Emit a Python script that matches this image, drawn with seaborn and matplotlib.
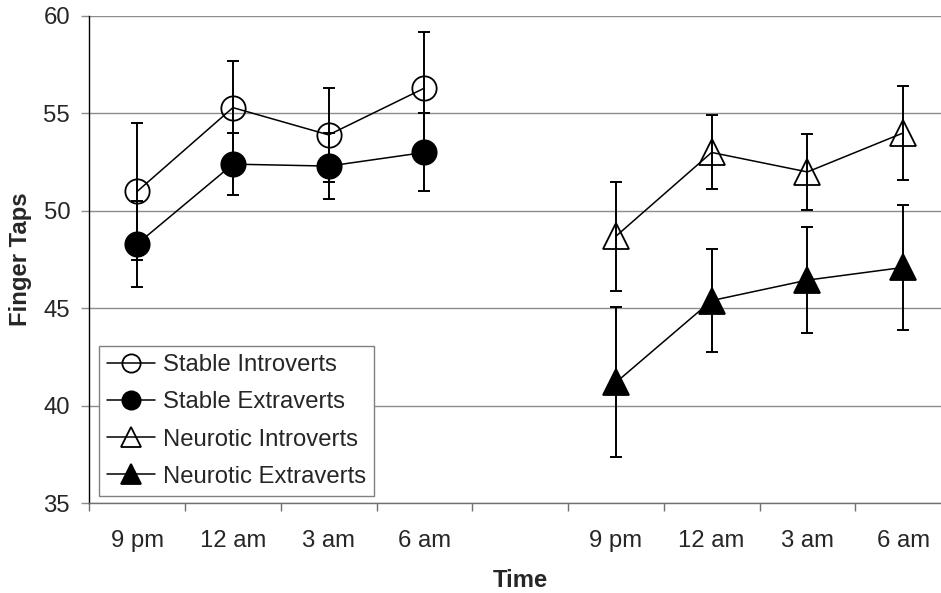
import numpy as np
import pandas as pd
import seaborn as sns
from matplotlib import pyplot as plt
from matplotlib.ticker import FixedLocator, NullFormatter

# categories along the x axis (gap between the two groups)
time_labels = ["9 pm", "12 am", "3 am", "6 am", "", "9 pm", "12 am", "3 am", "6 am"]
stable_x = [0, 1, 2, 3]
neurotic_x = [5, 6, 7, 8]

stable_introverts = [51.0, 55.3, 53.9, 56.3]
stable_introverts_err = [3.5, 2.4, 2.4, 2.9]
stable_extraverts = [48.3, 52.4, 52.3, 53.0]
stable_extraverts_err = [2.2, 1.6, 1.7, 2.0]
neurotic_introverts = [48.7, 53.0, 52.0, 54.0]
neurotic_introverts_err = [2.8, 1.9, 1.95, 2.4]
neurotic_extraverts = [41.2, 45.4, 46.45, 47.1]
neurotic_extraverts_err = [3.85, 2.65, 2.7, 3.2]

y_ticks = [35, 40, 45, 50, 55, 60]


def main() -> None:
    sns.set_theme(style="white")
    plt.rcParams["font.family"] = ["Liberation Sans", "DejaVu Sans"]
    fs = 17.2

    fig = plt.figure(figsize=(9.41, 5.93), dpi=100)
    ax = fig.add_axes([89.3 / 941, 89.7 / 593, 861.7 / 941, 487.3 / 593])

    series = [
        ("Stable Introverts", stable_x, stable_introverts, stable_introverts_err, "o", "none"),
        ("Stable Extraverts", stable_x, stable_extraverts, stable_extraverts_err, "o", "black"),
        ("Neurotic Introverts", neurotic_x, neurotic_introverts, neurotic_introverts_err, "^", "none"),
        ("Neurotic Extraverts", neurotic_x, neurotic_extraverts, neurotic_extraverts_err, "^", "black"),
    ]

    for name, xs, vals, errs, marker, face in series:
        ax.errorbar(xs, vals, yerr=errs, fmt="none", ecolor="black",
                    elinewidth=1.4, capsize=4.5, capthick=1.4, zorder=3)
        data = pd.DataFrame({"x": xs, "y": vals})
        sns.lineplot(data=data, x="x", y="y", ax=ax, color="black", linewidth=1.1,
                     marker=marker, markersize=17.5 if marker == "o" else 18.5,
                     mfc=face, mec="black", mew=1.3, label=name, zorder=4)

    ax.set_xlim(-0.5, 8.5)
    ax.set_ylim(35, 60)
    ax.set_yticks(y_ticks)
    ax.yaxis.grid(True, color="#8c8c8c", linewidth=1.0)
    ax.set_axisbelow(True)

    # boundaries as tick marks, category labels centred between them
    ax.xaxis.set_major_locator(FixedLocator(np.arange(-0.5, 9.0, 1.0)))
    ax.xaxis.set_major_formatter(NullFormatter())
    ax.xaxis.set_minor_locator(FixedLocator(np.arange(0, 9)))
    ax.set_xticklabels(time_labels, minor=True)
    ax.tick_params(axis="x", which="major", direction="out", length=5.8,
                   width=1.0, color="#707070", bottom=True)
    ax.tick_params(axis="x", which="minor", length=0, pad=19, labelsize=fs, bottom=True)
    ax.tick_params(axis="y", direction="out", length=5.8, width=1.0,
                   color="#8c8c8c", pad=8, labelsize=fs, left=True)

    for side in ["top", "right"]:
        ax.spines[side].set_visible(False)
    ax.spines["left"].set_color("black")
    ax.spines["left"].set_linewidth(1.0)
    ax.spines["bottom"].set_color("#707070")
    ax.spines["bottom"].set_linewidth(1.0)

    ax.set_xlabel("Time", fontsize=fs, fontweight="bold")
    ax.set_ylabel("Finger Taps", fontsize=fs, fontweight="bold")
    ax.xaxis.set_label_coords(0.5, -0.135)
    ax.yaxis.set_label_coords(-0.066, 0.5)

    leg = ax.legend(loc="lower left", bbox_to_anchor=(0.0116, 0.0156), borderaxespad=0,
                    fontsize=fs, markerscale=0.75, handlelength=2.0, handletextpad=0.35,
                    labelspacing=0.64, borderpad=0.33, frameon=True, fancybox=False,
                    framealpha=1, edgecolor="#808080")
    leg.get_frame().set_linewidth(1.0)

    fig.savefig("out.png", dpi=100)
    plt.close(fig)


if __name__ == "__main__":
    main()
